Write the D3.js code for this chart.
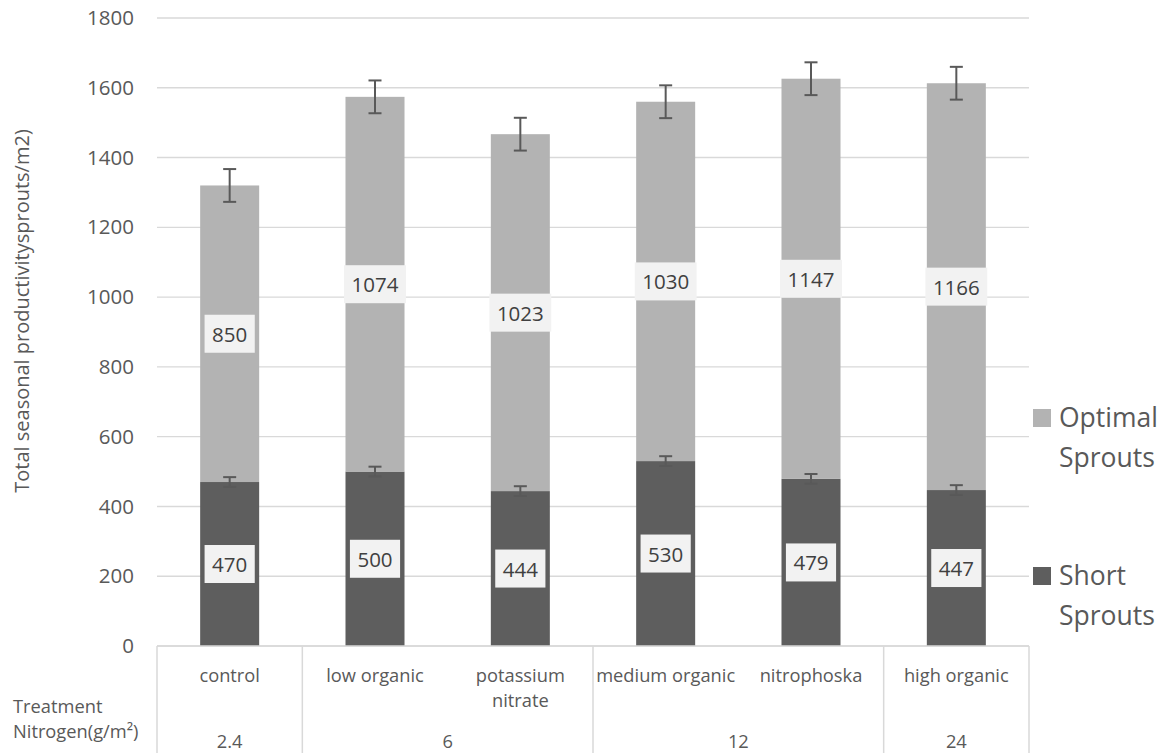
<!DOCTYPE html>
<html><head><meta charset="utf-8">
<script src="https://cdn.jsdelivr.net/npm/d3@7"></script>
<style>
body{margin:0;background:#fff}
svg{display:block}
text{font-family:"Open Sans",sans-serif}
</style>
</head><body><svg id="c" width="1170" height="753"></svg>
<script>
const categories = ["control","low organic","potassium nitrate","medium organic","nitrophoska","high organic"];
const shortSprouts = [470,500,444,530,479,447];
const optimalSprouts = [850,1074,1023,1030,1147,1166];
const shortErr = [14,14,14,14,14,14];
const optimalErr = [47,47,47,47,47,47];
const nitrogenGroups = ["2.4","6","12","24"];
const groupSizes = [1,2,2,1];
const yTicks = [0,200,400,600,800,1000,1200,1400,1600,1800];
const seriesNames = ["Optimal Sprouts","Short Sprouts"];
const yTitle = "Total seasonal productivitysprouts/m2)";
const rowTitle = ["Treatment","Nitrogen(g/m\u00B2)"];

const W=1170,H=753, L=157,R=1029,T=18,B=646;
const colOpt="#b3b3b3", colShort="#5e5e5e";
const svg=d3.select("#c");

const y=d3.scaleLinear().domain([0,1800]).range([B,T]);
const x=d3.scaleBand().domain(categories).range([L,R]).paddingInner(0.594).paddingOuter(0.297);
const step=x.step();

// gridlines
svg.append("g").selectAll("line").data(yTicks).join("line")
  .attr("x1",L).attr("x2",R).attr("y1",d=>y(d)).attr("y2",d=>y(d))
  .attr("stroke","#d9d9d9").attr("stroke-width",1.4);

// y axis labels
const ya=svg.append("g").attr("transform",`translate(${L},0)`)
  .call(d3.axisLeft(y).tickValues(yTicks).tickSize(0).tickPadding(23).tickFormat(d3.format("d")));
ya.select(".domain").remove();
ya.selectAll("text").attr("font-size",20.5).attr("fill","#595959").attr("font-family","Open Sans");

// y title
svg.append("text").attr("transform",`translate(29,311) rotate(-90)`).attr("text-anchor","middle")
  .attr("font-size",20).attr("fill","#595959").text(yTitle);

const rows=categories.map((c,i)=>({c,s:shortSprouts[i],o:optimalSprouts[i],se:shortErr[i],oe:optimalErr[i]}));

// bars
svg.append("g").selectAll("rect").data(rows).join("rect")
  .attr("x",d=>x(d.c)).attr("width",x.bandwidth())
  .attr("y",d=>y(d.s)).attr("height",d=>y(0)-y(d.s)).attr("fill",colShort);
svg.append("g").selectAll("rect").data(rows).join("rect")
  .attr("x",d=>x(d.c)).attr("width",x.bandwidth())
  .attr("y",d=>y(d.s+d.o)).attr("height",d=>y(d.s)-y(d.s+d.o)).attr("fill",colOpt);

// error bars
function errBars(data, center, err){
  const g=svg.append("g").attr("stroke","#595959").attr("stroke-width",2);
  data.forEach(d=>{
    const cx=x(d.c)+x.bandwidth()/2, v=center(d), e=err(d);
    g.append("line").attr("x1",cx).attr("x2",cx).attr("y1",y(v+e)).attr("y2",y(v-e));
    g.append("line").attr("x1",cx-6.5).attr("x2",cx+6.5).attr("y1",y(v+e)).attr("y2",y(v+e));
    g.append("line").attr("x1",cx-6.5).attr("x2",cx+6.5).attr("y1",y(v-e)).attr("y2",y(v-e));
  });
}
errBars(rows,d=>d.s,d=>d.se);
errBars(rows,d=>d.s+d.o,d=>d.oe);

// data labels
function dataLabels(data, mid, val){
  const g=svg.append("g");
  data.forEach(d=>{
    const cx=x(d.c)+x.bandwidth()/2, cy=y(mid(d));
    const t=g.append("text").attr("x",cx).attr("y",cy).attr("text-anchor","middle")
      .attr("dominant-baseline","central").attr("font-size",20.5).attr("fill","#404040").text(val(d));
    const w=t.node().getComputedTextLength();
    g.insert("rect","text").attr("x",cx-w/2-7.5).attr("width",w+15).attr("y",cy-19).attr("height",38).attr("fill","#f2f2f2");
  });
}
dataLabels(rows,d=>d.s/2,d=>d.s);
dataLabels(rows,d=>d.s+d.o/2,d=>d.o);

// category axis
svg.append("line").attr("x1",L).attr("x2",R).attr("y1",B).attr("y2",B).attr("stroke","#d9d9d9").attr("stroke-width",1.5);
let acc=0; const bounds=[0];
groupSizes.forEach(n=>{acc+=n;bounds.push(acc);});
svg.append("g").selectAll("line").data(bounds).join("line")
  .attr("x1",d=>L+d*step).attr("x2",d=>L+d*step).attr("y1",B).attr("y2",H)
  .attr("stroke","#d9d9d9").attr("stroke-width",1.5);

// category labels with wrapping
const cg=svg.append("g");
categories.forEach(c=>{
  const cx=x(c)+x.bandwidth()/2;
  const t=cg.append("text").attr("x",cx).attr("y",682).attr("text-anchor","middle").attr("font-size",18.3).attr("fill","#595959");
  const words=c.split(" "); let line=[]; let ts=t.append("tspan").attr("x",cx);
  words.forEach(w=>{
    line.push(w); ts.text(line.join(" "));
    if(ts.node().getComputedTextLength()>step-4 && line.length>1){
      line.pop(); ts.text(line.join(" ")); line=[w];
      ts=t.append("tspan").attr("x",cx).attr("dy",25).text(w);
    }
  });
});
// group labels
svg.append("g").selectAll("text").data(nitrogenGroups).join("text")
  .attr("x",(d,i)=>L+(bounds[i]+bounds[i+1])/2*step).attr("y",748).attr("text-anchor","middle")
  .attr("font-size",18.3).attr("fill","#595959").text(d=>d);
// row titles
svg.append("g").selectAll("text").data(rowTitle).join("text")
  .attr("x",13).attr("y",(d,i)=>713+i*25).attr("font-size",18.3).attr("fill","#595959").text(d=>d);

// legend
const leg=[{n:seriesNames[0],c:colOpt,y:418},{n:seriesNames[1],c:colShort,y:576}];
leg.forEach(l=>{
  svg.append("rect").attr("x",1033).attr("y",l.y-9).attr("width",18).attr("height",18).attr("fill",l.c);
  const t=svg.append("text").attr("x",1059).attr("y",l.y+9).attr("font-size",26.5).attr("fill","#595959");
  l.n.split(" ").forEach((w,i)=>t.append("tspan").attr("x",1059).attr("dy",i?40:0).text(w));
});
</script></body></html>
